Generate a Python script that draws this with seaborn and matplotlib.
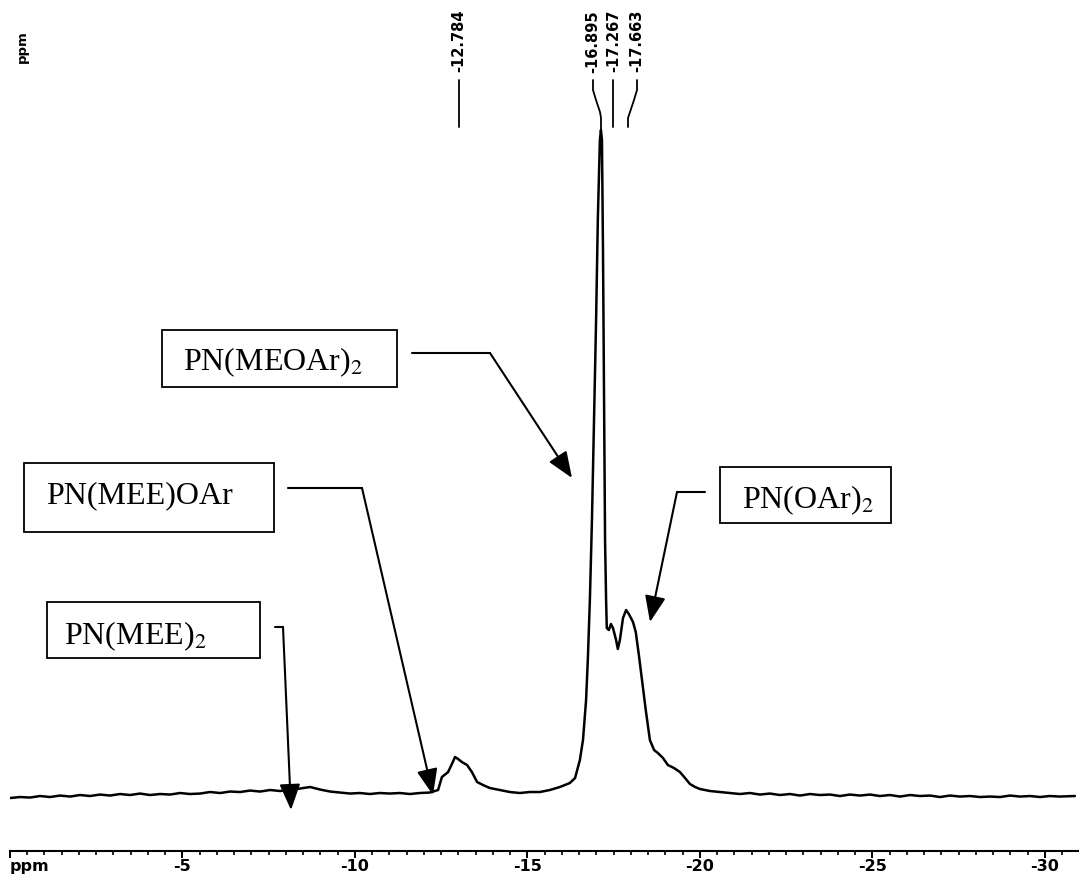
import numpy as np
import pandas as pd
import seaborn as sns
import matplotlib.pyplot as plt
from matplotlib.lines import Line2D
from matplotlib.patches import Rectangle
from matplotlib.ticker import MultipleLocator

# ---------------- data (31P NMR spectrum, ppm vs intensity) ----------------
ppm = [0.00, -0.29, -0.58, -0.87, -1.16, -1.45, -1.74, -2.03, -2.32, -2.61,
       -2.90, -3.19, -3.48, -3.77, -4.06, -4.35, -4.64, -4.93, -5.22, -5.51,
       -5.80, -6.09, -6.38, -6.67, -6.96, -7.25, -7.54, -7.83, -8.12, -8.41,
       -8.70, -8.99, -9.28, -9.57, -9.86, -10.14, -10.43, -10.72, -11.01, -11.30,
       -11.59, -11.88, -12.17, -12.41, -12.52, -12.70, -12.81, -12.90, -12.99, -13.10,
       -13.25, -13.39, -13.54, -13.71, -13.91, -14.20, -14.49, -14.78, -15.07, -15.36,
       -15.65, -15.94, -16.23, -16.38, -16.52, -16.61, -16.70, -16.75, -16.81, -16.87,
       -16.93, -16.99, -17.04, -17.10, -17.13, -17.16, -17.19, -17.22, -17.25, -17.28,
       -17.30, -17.36, -17.42, -17.48, -17.57, -17.62, -17.68, -17.77, -17.86, -17.94,
       -18.06, -18.14, -18.23, -18.32, -18.43, -18.55, -18.67, -18.78, -18.93, -19.07,
       -19.25, -19.42, -19.57, -19.71, -19.86, -20.00, -20.29, -20.58, -20.87, -21.16,
       -21.45, -21.74, -22.03, -22.32, -22.61, -22.90, -23.19, -23.48, -23.77, -24.06,
       -24.35, -24.64, -24.93, -25.22, -25.51, -25.80, -26.09, -26.38, -26.67, -26.96,
       -27.25, -27.54, -27.83, -28.12, -28.41, -28.70, -28.99, -29.28, -29.57, -29.86,
       -30.14, -30.43, -30.87]
intensity = [0.00, 0.15, 0.07, 0.30, 0.15, 0.37, 0.22, 0.45, 0.30, 0.52,
             0.37, 0.60, 0.45, 0.67, 0.45, 0.60, 0.52, 0.75, 0.60, 0.67,
             0.90, 0.75, 0.97, 0.90, 1.12, 0.97, 1.20, 1.05, 1.27, 1.42,
             1.65, 1.27, 0.97, 0.82, 0.67, 0.75, 0.60, 0.75, 0.67, 0.75,
             0.60, 0.75, 0.82, 1.20, 3.14, 3.89, 5.09, 6.14, 5.84, 5.39,
             4.94, 3.89, 2.40, 1.95, 1.50, 1.20, 0.90, 0.75, 0.90, 0.90,
             1.20, 1.65, 2.25, 2.99, 5.69, 8.68, 14.67, 20.66, 29.64, 41.62,
             56.59, 71.56, 86.53, 98.50, 100.00, 98.50, 82.04, 59.58, 38.62, 29.64,
             25.45, 25.15, 26.05, 25.45, 23.65, 22.31, 23.65, 26.95, 28.14, 27.54,
             26.35, 24.85, 21.41, 17.66, 13.17, 8.68, 7.19, 6.74, 5.99, 4.94,
             4.49, 3.89, 2.99, 2.10, 1.65, 1.35, 1.05, 0.90, 0.75, 0.60,
             0.75, 0.52, 0.67, 0.45, 0.60, 0.37, 0.60, 0.45, 0.52, 0.30,
             0.52, 0.37, 0.52, 0.30, 0.45, 0.22, 0.45, 0.30, 0.37, 0.15,
             0.37, 0.22, 0.30, 0.15, 0.22, 0.15, 0.37, 0.22, 0.30, 0.15,
             0.30, 0.22, 0.30]

tick_values = [0, -5, -10, -15, -20, -25, -30]
tick_labels = ["ppm", "-5", "-10", "-15", "-20", "-25", "-30"]
peak_labels = ["-12.784", "-16.895", "-17.267", "-17.663"]
species = ["PN(MEOAr)$_2$", "PN(MEE)OAr", "PN(MEE)$_2$", "PN(OAr)$_2$"]

df = pd.DataFrame({"ppm": ppm, "intensity": intensity})

# ---------------- figure ----------------
sns.set_style("white")
plt.rcParams["font.family"] = ["DejaVu Sans"]
plt.rcParams["mathtext.fontset"] = "stix"
plt.rcParams["text.color"] = "black"
plt.rcParams["xtick.color"] = "black"
plt.rcParams["xtick.labelcolor"] = "black"
plt.rcParams["axes.edgecolor"] = "black"

W, H = 1080, 880
fig = plt.figure(figsize=(W / 100, H / 100), dpi=100)
ax = fig.add_axes([10 / W, 29 / H, 1068 / W, 851 / H])

sns.lineplot(data=df, x="ppm", y="intensity", ax=ax, color="black",
             linewidth=1.8, sort=False, estimator=None)

ax.set_xlim(0, -30.96)
ax.set_ylim(-7.93, 119.46)
ax.set_xlabel("")
ax.set_ylabel("")
ax.set_yticks([])
for s in ["top", "left", "right"]:
    ax.spines[s].set_visible(False)
ax.spines["bottom"].set_linewidth(1.5)
ax.spines["bottom"].set_color("black")

ax.set_xticks(tick_values)
ax.set_xticklabels(tick_labels)
ax.xaxis.set_minor_locator(MultipleLocator(0.5))
ax.tick_params(axis="x", which="both", bottom=True, top=False)
ax.tick_params(axis="x", which="major", direction="out", length=5, width=1.4,
               pad=0.5, labelsize=11.5, color="black", labelcolor="black")
ax.tick_params(axis="x", which="minor", direction="out", length=2.8, width=1.2,
               color="black")
for lab in ax.get_xticklabels():
    lab.set_fontweight("bold")
ax.get_xticklabels()[0].set_horizontalalignment("left")


def fx(x):
    return x / W


def fy(y):
    return 1 - y / H


# rotated "ppm" at top-left
fig.text(fx(22), fy(47), "ppm", rotation=90, ha="center", va="center",
         fontsize=9.5, fontweight="bold", color="black")

# peak labels at top
label_x = [459, 593, 614, 637]
for lx, txt in zip(label_x, peak_labels):
    fig.text(fx(lx), fy(10), txt, rotation=90, ha="center", va="top",
             fontsize=10.5, fontweight="bold", color="black")

lead_lines = [
    ([459, 459], [80, 127]),
    ([593, 593, 596, 600, 601, 601], [80, 90, 100, 112, 118, 130]),
    ([613, 613], [80, 127]),
    ([637, 637, 634, 630, 628, 628], [80, 90, 100, 112, 118, 127]),
]
for xs, ys in lead_lines:
    fig.add_artist(Line2D([fx(v) for v in xs], [fy(v) for v in ys],
                          transform=fig.transFigure, color="black", lw=1.3))

# annotation boxes
boxes = [
    (162, 330, 397, 387, 183, 370),
    (24, 463, 274, 532, 46, 503),
    (47, 602, 260, 658, 64, 644),
    (720, 467, 891, 523, 742, 508),
]
for (x0, y0, x1, y1, tx, ty), name in zip(boxes, species):
    fig.add_artist(Rectangle((fx(x0), fy(y1)), (x1 - x0) / W, (y1 - y0) / H,
                             transform=fig.transFigure, fill=False,
                             edgecolor="black", lw=1.3))
    fig.text(fx(tx), fy(ty), name, ha="left", va="baseline", fontsize=23,
             family="Liberation Serif", color="black")

# connector arrows
arrows = [
    ([(412, 353), (490, 353)], (572, 478)),
    ([(288, 488), (362, 488)], (433, 795)),
    ([(275, 627), (283, 627)], (291, 810)),
    ([(705, 492), (677, 492)], (650, 622)),
]
for pts, tip in arrows:
    fig.add_artist(Line2D([fx(p[0]) for p in pts], [fy(p[1]) for p in pts],
                          transform=fig.transFigure, color="black", lw=1.5))
    start = pts[-1]
    ax.annotate("", xy=(tip[0], H - tip[1]), xytext=(start[0], H - start[1]),
                xycoords="figure pixels", textcoords="figure pixels",
                arrowprops=dict(arrowstyle="-|>,head_length=1.0,head_width=0.4",
                                color="black", lw=1.5, mutation_scale=16,
                                shrinkA=0, shrinkB=0))

fig.savefig("out.png", dpi=100)
